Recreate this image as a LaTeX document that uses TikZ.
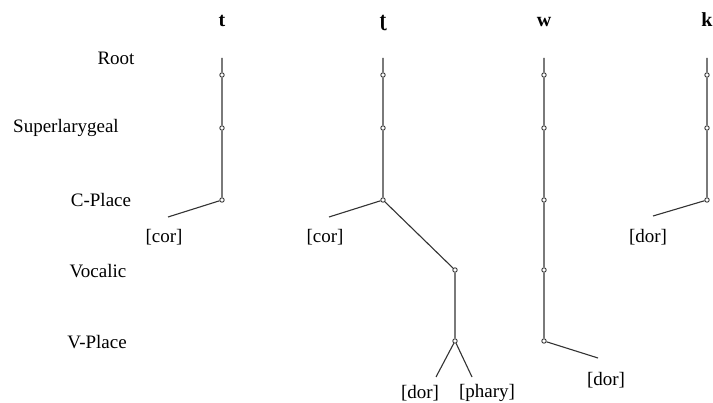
\documentclass[tikz,border=0pt]{standalone}
\usepackage{fontspec}
\setmainfont{Liberation Serif}
\begin{document}
\begin{tikzpicture}[x=1pt,y=-1pt,
  dot/.style={circle,draw=black!80,fill=white,inner sep=0pt,minimum size=4.4pt,line width=0.9pt},
  edge/.style={draw=black!80,line width=1.1pt},
  lbl/.style={inner sep=0pt,font=\fontsize{19}{22}\selectfont,text=black},
  seg/.style={inner sep=0pt,font=\fontsize{20}{22}\selectfont\bfseries,text=black,anchor=base}]
\useasboundingbox[fill=white] (0,0) rectangle (713,403);
% tier labels
\node[lbl] (Lroot) at (116,58) {Root};
\node[lbl] (Lsup) at (66,128) {Superlarygeal};
\node[lbl] (Lcpl) at (101,200) {C-Place};
\node[lbl] (Lvoc) at (98,271) {Vocalic};
\node[lbl] (Lvpl) at (97,342) {V-Place};
% segment labels
\node[seg] (St) at (222,27) {t};
\node[seg] (Sr) at (383,27) {ʈ};
\node[seg] (Sw) at (544,27) {w};
\node[seg] (Sk) at (707,27) {k};
% column t
\coordinate (t0) at (222,58);
\node[dot] (t1) at (222,75) {};
\node[dot] (t2) at (222,128) {};
\node[dot] (t3) at (222,200) {};
\coordinate (tc) at (168,217);
\node[lbl] (tcor) at (164,237) {[cor]};
\draw[edge] (t0) -- (t1) -- (t2) -- (t3) -- (tc);
% column retroflex
\coordinate (r0) at (383,58);
\node[dot] (r1) at (383,75) {};
\node[dot] (r2) at (383,128) {};
\node[dot] (r3) at (383,200) {};
\coordinate (rc) at (329,217);
\node[lbl] (rcor) at (325,237) {[cor]};
\node[dot] (r4) at (455,270) {};
\node[dot] (r5) at (455,341) {};
\coordinate (rd) at (436,377);
\coordinate (rp) at (472,377);
\node[lbl] (rdor) at (420,393) {[dor]};
\node[lbl] (rphary) at (487,393) {[phary]};
\draw[edge] (r0) -- (r1) -- (r2) -- (r3) -- (rc);
\draw[edge] (r3) -- (r4) -- (r5) -- (rd);
\draw[edge] (r5) -- (rp);
% column w
\coordinate (w0) at (544,58);
\node[dot] (w1) at (544,75) {};
\node[dot] (w2) at (544,128) {};
\node[dot] (w3) at (544,200) {};
\node[dot] (w4) at (544,270) {};
\node[dot] (w5) at (544,341) {};
\coordinate (wd) at (598,358);
\node[lbl] (wdor) at (606,380) {[dor]};
\draw[edge] (w0) -- (w1) -- (w2) -- (w3) -- (w4) -- (w5) -- (wd);
% column k
\coordinate (k0) at (707,58);
\node[dot] (k1) at (707,75) {};
\node[dot] (k2) at (707,128) {};
\node[dot] (k3) at (707,200) {};
\coordinate (kd) at (653,216);
\node[lbl] (kdor) at (648,237) {[dor]};
\draw[edge] (k0) -- (k1) -- (k2) -- (k3) -- (kd);
\end{tikzpicture}
\end{document}
